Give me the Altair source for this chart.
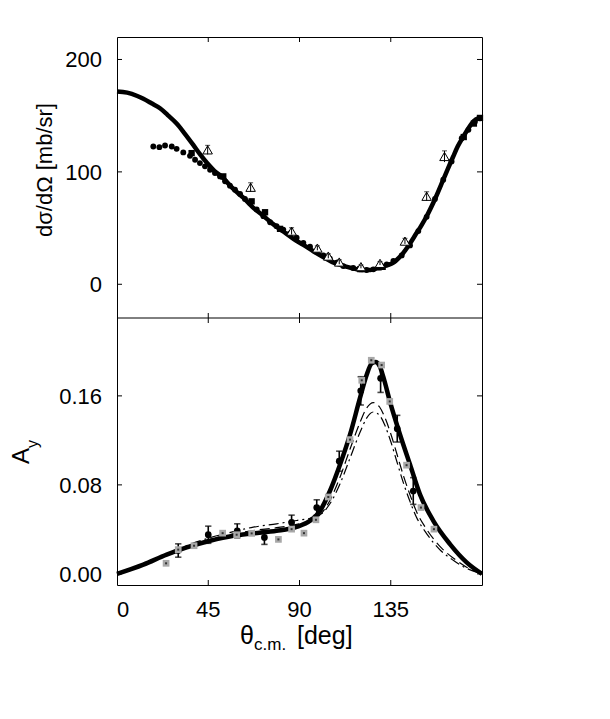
import altair as alt
import pandas as pd

# ---------------- top panel: differential cross section ----------------
xs_th_theta = [0, 5, 10, 13, 17, 21.2, 25, 29.4, 33, 37.6, 41, 44.2, 48, 52.4, 57, 62.3, 67, 72.2, 77, 82,
               87, 91.9, 97, 101.7, 106, 111.6, 116, 121.5, 125, 129.7, 133, 136.3, 139, 141.2, 144, 147.8,
               150, 152.7, 157, 160.9, 163, 165.8, 168, 170.8, 173, 175.7, 178, 180]
xs_th_val = [171.5, 170.5, 167.5, 165, 161, 156.6, 150.5, 143, 135, 124, 115.5, 108.3, 101, 94.5, 85.5, 77,
             68.5, 60.8, 53.5, 47, 40.5, 35, 29.2, 24.2, 19.9, 16.4, 14.3, 12.7, 12.8, 14.8, 16.8, 19.2, 23.5,
             28, 35, 45.8, 52, 60.5, 76.5, 93, 102, 113.7, 122.5, 131.4, 138, 144.7, 147.5, 148]

xs_circ_theta = [17.9, 20.9, 23.7, 27.0, 29.4, 32.7, 36.0, 38.5, 40.9, 43.4, 45.9, 48.3, 50.8, 53.3, 55.7,
                 58.2, 60.7, 63.1, 65.6, 68.9, 72.2, 75.5, 78.7, 82.0, 85.3, 88.6, 91.9, 95.2, 98.5, 101.8,
                 105.0, 108.3, 111.6, 116.5, 119.8, 123.1, 126.4, 129.7, 133.0, 136.3, 140.4, 144.5, 148.6,
                 152.7, 156.8, 160.9, 165.0, 170.0, 173.3, 176.5, 179.0]
xs_circ_val = [122.6, 122.0, 123.5, 122.6, 120.5, 117.3, 114.3, 110.8, 107.8, 104.9, 101.9, 99.0, 96.0, 91.6,
               87.7, 84.2, 80.3, 75.9, 72.4, 66.5, 60.6, 55.2, 51.7, 48.7, 45.2, 41.4, 36.9, 33.4, 29.5, 25.7,
               22.7, 19.2, 16.2, 14.5, 13.3, 12.7, 13.3, 14.8, 17.7, 20.7, 25.7, 34.6, 47.3, 60.0, 75.9, 93.0,
               109.3, 130.0, 137.4, 144.7, 147.7]

xs_sq_theta = [36.8, 52.4, 66.4, 73.0, 80.4, 120.0, 131.0, 171.0, 176.0, 179.0]
xs_sq_val = [116.7, 96.0, 73.8, 64.1, 49.3, 13.5, 15.5, 131.0, 143.0, 148.0]

xs_tri_theta = [44.7, 65.9, 86.1, 98.8, 104.2, 109.6, 120.3, 129.7, 142.0, 152.7, 161.5]
xs_tri_val = [119.6, 86.3, 47.3, 32.2, 25.1, 19.8, 15.7, 18.6, 38.4, 78.3, 113.7]
xs_tri_err = [4, 4, 3, 2, 2, 2, 1.5, 1.5, 2.5, 4, 5]

# ---------------- bottom panel: analyzing power ----------------
ay_solid_theta = [0, 13.0, 24.5, 34.4, 45.9, 57.4, 67.2, 78.7, 88.6, 95.2, 100.1, 105.0, 110.0, 114.9, 119.8,
                  123.1, 125.5, 127.5, 129.5, 131.3, 134.6, 139.6, 144.5, 149.4, 156.0, 164.2, 172.4, 180]
ay_solid_val = [0, 0.0083, 0.0173, 0.0238, 0.0298, 0.0343, 0.0364, 0.0387, 0.0423, 0.0477, 0.0566, 0.0745,
                0.0983, 0.1251, 0.1579, 0.1788, 0.1890, 0.1905, 0.1870, 0.1773, 0.1549, 0.1251, 0.0983,
                0.0715, 0.0477, 0.0268, 0.0104, 0.0]

ay_dash_theta = [0, 13, 24.5, 34.4, 45.9, 57.4, 67.2, 78.7, 88.6, 95.2, 100.1, 105, 110, 114.9, 119.8, 123.1,
                 126.4, 129.5, 132, 135, 138, 141.2, 144.5, 148.2, 152, 159.6, 166, 172.4, 180]
ay_dash_val = [0, 0.0085, 0.0177, 0.0245, 0.031, 0.036, 0.039, 0.0415, 0.0445, 0.048, 0.053, 0.066, 0.087,
               0.112, 0.136, 0.149, 0.154, 0.150, 0.141, 0.126, 0.108, 0.0885, 0.071, 0.054, 0.042, 0.024,
               0.014, 0.006, 0]

ay_dd_theta = [0, 13, 24.5, 34.4, 45.9, 57.4, 67.2, 78.7, 88.6, 95.2, 100.1, 105, 110, 114.9, 119.8, 123.1,
               126.4, 129.5, 132, 135, 138, 141.2, 144.5, 148.2, 152, 159.6, 166, 172.4, 180]
ay_dd_val = [0, 0.0088, 0.0182, 0.0255, 0.0325, 0.038, 0.042, 0.045, 0.048, 0.050, 0.053, 0.063, 0.081,
             0.104, 0.127, 0.140, 0.1455, 0.1425, 0.134, 0.119, 0.101, 0.082, 0.065, 0.049, 0.038, 0.021,
             0.012, 0.005, 0]

ay_circ_theta = [30.2, 45.0, 59.3, 72.7, 86.1, 98.5, 109.6, 120.2, 130.0, 138.2, 146.1]
ay_circ_val = [0.021, 0.0352, 0.0387, 0.0328, 0.0462, 0.0596, 0.1013, 0.1645, 0.1758, 0.1305, 0.0745]
ay_circ_err = [0.006, 0.0077, 0.0063, 0.0063, 0.0066, 0.007, 0.009, 0.0127, 0.0127, 0.012, 0.012]

ay_sq_theta = [24.2, 30.2, 38.0, 52.1, 59.0, 66.4, 79.6, 86.1, 92.2, 98.1, 104.2, 114.9, 120.7, 125.4,
               130.5, 134.5, 142.8, 149.9, 156.3]
ay_sq_val = [0.0095, 0.0218, 0.0253, 0.0366, 0.0352, 0.0364, 0.0310, 0.0402, 0.0366, 0.0486, 0.0691, 0.1207,
             0.1740, 0.1920, 0.1877, 0.1550, 0.0977, 0.0596, 0.0402]

# ---------------- axes ----------------
x_ticks = [45, 90, 135]
x_tick_labels = ["45", "90", "135"]
xs_ticks = [0, 100, 200]
xs_tick_labels = ["0", "100", "200"]
ay_ticks = [0, 0.08, 0.16]
ay_tick_labels = ["0.00", "0.08", "0.16"]

W, H1, H2 = 365, 281, 267
H = H1 + H2
FONT = "Liberation Sans"

xsc = alt.Scale(domain=[0, 180], nice=False, zero=False)
ysc_top = alt.Scale(domain=[-30, 220], range=[H1, 0], nice=False, zero=False)
ysc_bot = alt.Scale(domain=[-0.01, 0.23], range=[H, H1], nice=False, zero=False)


def X(f="t"):
    return alt.X(f"{f}:Q", scale=xsc, axis=None)


def YT(f="v"):
    return alt.Y(f"{f}:Q", scale=ysc_top, axis=None)


def YB(f="v"):
    return alt.Y(f"{f}:Q", scale=ysc_bot, axis=None)


def df(t, v, e=None):
    d = pd.DataFrame({"t": t, "v": v})
    if e is not None:
        d["lo"] = [a - b for a, b in zip(v, e)]
        d["hi"] = [a + b for a, b in zip(v, e)]
    return d


layers = []

# top panel
layers.append(alt.Chart(df(xs_th_theta, xs_th_val)).mark_line(
    color="black", strokeWidth=4.5, interpolate="monotone").encode(x=X(), y=YT()))
layers.append(alt.Chart(df(xs_circ_theta, xs_circ_val)).mark_point(
    shape="circle", filled=True, color="black", opacity=1, size=34).encode(x=X(), y=YT()))
layers.append(alt.Chart(df(xs_sq_theta, xs_sq_val)).mark_point(
    shape="square", filled=True, color="black", opacity=1, size=40).encode(x=X(), y=YT()))
tri = df(xs_tri_theta, xs_tri_val, xs_tri_err)
layers.append(alt.Chart(tri).mark_point(
    shape="triangle-up", filled=True, fill="white", stroke="black", strokeWidth=1, opacity=1, size=90
).encode(x=X(), y=YT()))
layers.append(alt.Chart(tri).mark_rule(color="black", strokeWidth=1).encode(
    x=X(), y=YT("lo"), y2=alt.Y2("hi:Q")))
layers.append(alt.Chart(tri).mark_point(shape="stroke", color="black", size=25, strokeWidth=1).encode(
    x=X(), y=YT("hi")))

# bottom panel
layers.append(alt.Chart(df(ay_dash_theta, ay_dash_val)).mark_line(
    color="black", strokeWidth=1.2, strokeDash=[10, 5], interpolate="monotone").encode(x=X(), y=YB()))
layers.append(alt.Chart(df(ay_dd_theta, ay_dd_val)).mark_line(
    color="black", strokeWidth=1.2, strokeDash=[10, 4, 2, 4], interpolate="monotone").encode(x=X(), y=YB()))
layers.append(alt.Chart(df(ay_solid_theta, ay_solid_val)).mark_line(
    color="black", strokeWidth=4.5, interpolate="monotone").encode(x=X(), y=YB()))
circ = df(ay_circ_theta, ay_circ_val, ay_circ_err)
layers.append(alt.Chart(circ).mark_rule(color="black", strokeWidth=1.6).encode(
    x=X(), y=YB("lo"), y2=alt.Y2("hi:Q")))
layers.append(alt.Chart(circ).mark_point(shape="stroke", color="black", size=40, strokeWidth=1.6).encode(
    x=X(), y=YB("lo")))
layers.append(alt.Chart(circ).mark_point(shape="stroke", color="black", size=40, strokeWidth=1.6).encode(
    x=X(), y=YB("hi")))
layers.append(alt.Chart(circ).mark_point(
    shape="circle", filled=True, color="black", opacity=1, size=45).encode(x=X(), y=YB()))
sq = df(ay_sq_theta, ay_sq_val)
layers.append(alt.Chart(sq).mark_point(
    shape="square", filled=True, color="#a8a8a8", opacity=1, size=45).encode(x=X(), y=YB()))
layers.append(alt.Chart(sq).mark_point(
    shape="square", filled=True, color="#333333", opacity=1, size=4).encode(x=X(), y=YB()))

# frame divider and inward ticks
xt = pd.DataFrame({"t": x_ticks, "s": x_tick_labels})
yt_top = pd.DataFrame({"v": xs_ticks, "s": xs_tick_labels})
yt_bot = pd.DataFrame({"v": ay_ticks, "s": ay_tick_labels})

layers.append(alt.Chart(xt.head(1)).mark_rule(color="black", strokeWidth=1).encode(
    x=alt.value(0), x2=alt.value(W), y=alt.value(H1)))
for y0, y1 in [(0, 5), (H1 - 5, H1 + 5), (H - 5, H)]:
    layers.append(alt.Chart(xt).mark_rule(color="black", strokeWidth=1).encode(
        x=X(), y=alt.value(y0), y2=alt.value(y1)))
for d, Yf in [(yt_top, YT), (yt_bot, YB)]:
    for x0, x1 in [(0, 5), (W - 5, W)]:
        layers.append(alt.Chart(d).mark_rule(color="black", strokeWidth=1).encode(
            y=Yf(), x=alt.value(x0), x2=alt.value(x1)))

# tick labels
for d, Yf in [(yt_top, YT), (yt_bot, YB)]:
    layers.append(alt.Chart(d).mark_text(
        font=FONT, fontSize=22, align="right", baseline="alphabetic", dy=8, color="black"
    ).encode(y=Yf(), x=alt.value(-15), text="s:N"))
layers.append(alt.Chart(xt).mark_text(
    font=FONT, fontSize=22, align="center", baseline="alphabetic", color="black"
).encode(x=X(), y=alt.value(H + 32), text="s:N"))
layers.append(alt.Chart(pd.DataFrame({"t": [0], "s": ["0"]})).mark_text(
    font=FONT, fontSize=22, align="center", baseline="alphabetic", dx=6, color="black"
).encode(x=X(), y=alt.value(H + 32), text="s:N"))


# titles
def title(txt, x, y, size, angle=0, align="center", baseline="middle"):
    return alt.Chart(pd.DataFrame({"s": [txt]})).mark_text(
        font=FONT, fontSize=size, angle=angle, align=align, baseline=baseline, color="black"
    ).encode(x=alt.value(x), y=alt.value(y), text="s:N")


layers.append(title("dσ/dΩ [mb/sr]", -72, 133, 22, angle=270))
layers.append(title("A", -95, 419, 24, angle=270))
layers.append(title("y", -84, 407, 16, angle=270))
layers.append(title("θ", 123, 607, 25, align="left", baseline="alphabetic"))
layers.append(title("c.m.", 137, 613, 17, align="left", baseline="alphabetic"))
layers.append(title("[deg]", 180, 607, 25, align="left", baseline="alphabetic"))

chart = alt.layer(*layers).resolve_scale(y="independent").properties(
    width=W, height=H,
    autosize=alt.AutoSizeParams(type="none"),
    padding={"left": 109, "top": 29, "right": 20, "bottom": 80},
).configure_view(stroke="black", strokeWidth=1)

chart.save("out.html", embed_options={"renderer": "svg", "actions": False})
